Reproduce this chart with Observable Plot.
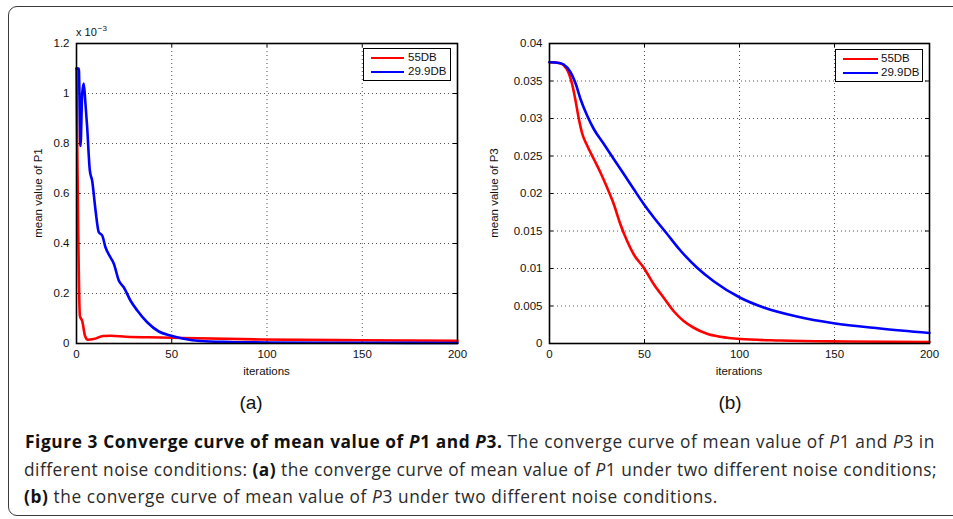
<!DOCTYPE html>
<html>
<head>
<meta charset="utf-8">
<script src="https://cdn.jsdelivr.net/npm/d3@7"></script>
<script src="https://cdn.jsdelivr.net/npm/@observablehq/plot@0.6"></script>
<style>
  html, body { margin: 0; padding: 0; background: #fff; }
  #page { position: relative; width: 953px; height: 519px; overflow: hidden; background: #fff; font-family: "Liberation Sans", Arial, sans-serif; }
  #frame { position: absolute; left: 8px; top: 6px; width: 980px; height: 510px; border: 1.3px solid #3a3a3a; border-radius: 9px; box-sizing: border-box; }
  .plotbox { position: absolute; top: 0; }
  .lbl { position: absolute; font-family: "Liberation Sans", Arial, sans-serif; font-size: 11.5px; color: #111; white-space: nowrap; }
  .ylbl { transform: translate(-50%, -50%) rotate(-90deg); }
  .xlbl { transform: translate(-50%, -50%); }
  .sub { position: absolute; font-family: "Liberation Sans", Arial, sans-serif; font-size: 19px; color: #111; transform: translate(-50%, -50%); }
  .legend { position: absolute; border: 1px solid #000; background: #fff; box-sizing: border-box; }
  .legend .row { position: absolute; left: 0; height: 14px; width: 100%; }
  .legend .sw { position: absolute; height: 2.4px; top: 6px; }
  .legend .tx { position: absolute; top: -1px; font-family: "Liberation Sans", Arial, sans-serif; font-size: 11.5px; color: #111; line-height: 14px; }
  #caption { position: absolute; left: 0; top: 0; }
</style>
</head>
<body>
<div id="page">
  <div id="frame"></div>
</div>
<script>
// ---------- data ----------
const seriesNames = ["55DB", "29.9DB"];
const seriesColors = ["#ff0000", "#0000ff"];

const xTicks = [0, 50, 100, 150, 200];
const p1Ticks = [0, 0.2, 0.4, 0.6, 0.8, 1, 1.2];               // units of 1e-3
const p3Ticks = [0, 0.005, 0.01, 0.015, 0.02, 0.025, 0.03, 0.035, 0.04];

// (a) mean value of P1 (x 10^-3)
const p1Iter55 = [0, 1.8, 3, 4.5, 6, 9, 14, 18, 26, 44, 97, 150, 200];
const p1Val55  = [1.1, 0.11, 0.09, 0.03, 0.015, 0.018, 0.03, 0.031, 0.027, 0.024, 0.016, 0.013, 0.011];
const p1Iter299 = [0, 1.2, 2.1, 3, 3.8, 4.6, 5.6, 7, 8.2, 10, 11.7, 13.5, 15.2, 17.8, 19.6, 22.2, 24.8, 28.3, 31.9, 37.1, 43.2, 49.3, 56.3, 65, 80, 100, 150, 200];
const p1Val299  = [1.1, 1.1, 0.79, 1.0, 1.04, 0.97, 0.865, 0.692, 0.652, 0.532, 0.445, 0.432, 0.385, 0.345, 0.319, 0.252, 0.225, 0.172, 0.132, 0.085, 0.048, 0.032, 0.019, 0.01, 0.006, 0.004, 0.003, 0.002];

// (b) mean value of P3
const p3Iter55 = [0, 5, 7.5, 10.2, 11.9, 13.7, 15.4, 17.2, 19.8, 23.3, 26.8, 30.3, 33.8, 37.3, 40.8, 44.3, 49.6, 54.9, 60.1, 65.4, 70.6, 75.9, 82.9, 89.9, 100.4, 121.5, 156.5, 200];
const p3Val55  = [0.0375, 0.0374, 0.0371, 0.036, 0.0346, 0.0324, 0.030, 0.028, 0.0264, 0.0246, 0.0228, 0.0208, 0.0186, 0.0159, 0.0137, 0.0119, 0.0101, 0.0079, 0.0061, 0.0043, 0.003, 0.0021, 0.0013, 0.0009, 0.0006, 0.0004, 0.00027, 0.0002];
const p3Iter299 = [0, 5, 7.5, 11, 13.7, 16.3, 19.8, 23.3, 28.6, 33.8, 39.1, 44.3, 49.6, 54.9, 61.9, 68.9, 77.7, 86.4, 100.4, 112.7, 130.2, 149.5, 174, 200];
const p3Val299  = [0.0375, 0.0374, 0.0372, 0.0362, 0.0347, 0.0326, 0.0304, 0.0286, 0.0266, 0.0246, 0.0226, 0.0206, 0.0186, 0.0168, 0.0146, 0.0124, 0.0101, 0.0083, 0.0061, 0.0048, 0.0036, 0.0027, 0.002, 0.0014];

const panelA = { yLabel: "mean value of P1", sub: "(a)" };
const panelB = { yLabel: "mean value of P3", sub: "(b)" };

// ---------- helpers ----------
function toRows(iters, vals, series) {
  return iters.map((x, i) => ({ x, y: vals[i], series }));
}
const fmt = d => String(+d.toFixed(4));

function makePanel(cfg) {
  const { width, height, mL, mR, mT, mB, yDomain, yTicks, rows } = cfg;
  const iw = width - mL - mR, ih = height - mT - mB;
  return Plot.plot({
    width, height,
    marginLeft: mL, marginRight: mR, marginTop: mT, marginBottom: mB,
    style: { fontFamily: "'Liberation Sans', Arial, sans-serif", fontSize: "11.5px", color: "#111", background: "transparent", overflow: "visible" },
    x: { domain: [0, 200], ticks: xTicks, tickSize: 0, tickPadding: 6, label: null },
    y: { domain: yDomain, ticks: yTicks, tickSize: 0, tickPadding: 7, label: null, tickFormat: fmt },
    color: { domain: seriesNames, range: seriesColors },
    marks: [
      Plot.ruleX(xTicks, { stroke: "#555", strokeWidth: 1, strokeDasharray: "1,3" }),
      Plot.ruleY(yTicks, { stroke: "#555", strokeWidth: 1, strokeDasharray: "1,3" }),
      // inward MATLAB-style tick marks
      Plot.ruleX(xTicks, { stroke: "#000", insetTop: ih - 4 }),
      Plot.ruleX(xTicks, { stroke: "#000", insetBottom: ih - 4 }),
      Plot.ruleY(yTicks, { stroke: "#000", insetRight: iw - 4 }),
      Plot.ruleY(yTicks, { stroke: "#000", insetLeft: iw - 4 }),
      Plot.line(rows, { x: "x", y: "y", z: "series", stroke: "series", strokeWidth: 2.6, curve: "monotone-x" }),
      Plot.frame({ stroke: "#000", strokeWidth: 1.6 })
    ]
  });
}

const page = document.getElementById("page");

function addLegend(left, top, w, h, swL, swW, txL) {
  const lg = document.createElement("div");
  lg.className = "legend";
  Object.assign(lg.style, { left: left + "px", top: top + "px", width: w + "px", height: h + "px" });
  seriesNames.forEach((name, i) => {
    const row = document.createElement("div");
    row.className = "row";
    row.style.top = (2 + i * 14) + "px";
    const sw = document.createElement("div");
    sw.className = "sw";
    Object.assign(sw.style, { left: swL + "px", width: swW + "px", background: seriesColors[i] });
    const tx = document.createElement("div");
    tx.className = "tx";
    tx.style.left = txL + "px";
    tx.textContent = name;
    row.appendChild(sw); row.appendChild(tx);
    lg.appendChild(row);
  });
  page.appendChild(lg);
}

function addLabel(cls, text, x, y) {
  const el = document.createElement("div");
  el.className = cls;
  el.textContent = text;
  Object.assign(el.style, { left: x + "px", top: y + "px" });
  page.appendChild(el);
  return el;
}

// ---------- panel (a) ----------
const rowsA = [...toRows(p1Iter55, p1Val55, seriesNames[0]), ...toRows(p1Iter299, p1Val299, seriesNames[1])];
const plotA = makePanel({ width: 476, height: 380, mL: 76, mR: 19, mT: 43, mB: 37, yDomain: [0, 1.2], yTicks: p1Ticks, rows: rowsA });
const boxA = document.createElement("div"); boxA.className = "plotbox"; boxA.style.left = "0px";
boxA.appendChild(plotA); page.appendChild(boxA);

// ---------- panel (b) ----------
const rowsB = [...toRows(p3Iter55, p3Val55, seriesNames[0]), ...toRows(p3Iter299, p3Val299, seriesNames[1])];
const plotB = makePanel({ width: 483, height: 380, mL: 79, mR: 24, mT: 43, mB: 37, yDomain: [0, 0.04], yTicks: p3Ticks, rows: rowsB });
const boxB = document.createElement("div"); boxB.className = "plotbox"; boxB.style.left = "470px";
boxB.appendChild(plotB); page.appendChild(boxB);

// exponent label
const ex = document.createElement("div");
ex.className = "lbl";
ex.style.left = "76px"; ex.style.top = "26px"; ex.style.fontSize = "11px";
ex.innerHTML = 'x 10<span style="position:relative;top:-5px;font-size:8px;margin-left:1px">\u22123</span>';
page.appendChild(ex);

// axis labels and sub labels
addLabel("lbl xlbl", "iterations", 266.5, 371);
addLabel("lbl xlbl", "iterations", 739, 371);
addLabel("lbl ylbl", panelA.yLabel, 38, 193);
addLabel("lbl ylbl", panelB.yLabel, 494, 193);
addLabel("sub", panelA.sub, 251, 403);
addLabel("sub", panelB.sub, 730, 403);

// legends
addLegend(363, 48, 88, 33, 7, 33, 44);
addLegend(835, 49, 88, 33, 7, 35, 45);

// ---------- caption ----------
const NS = "http://www.w3.org/2000/svg";
const cap = document.createElementNS(NS, "svg");
cap.setAttribute("id", "caption");
cap.setAttribute("width", 953); cap.setAttribute("height", 519);
cap.style.position = "absolute"; cap.style.left = "0"; cap.style.top = "0"; cap.style.pointerEvents = "none";
page.appendChild(cap);

const captionLines = [
  [["b", "Figure 3 Converge curve of mean value of "], ["bi", "P"], ["b", "1 and "], ["bi", "P"], ["b", "3."], ["r", " The converge curve of mean value of "], ["i", "P"], ["r", "1 and "], ["i", "P"], ["r", "3 in"]],
  [["r", "different noise conditions: "], ["b", "(a)"], ["r", " the converge curve of mean value of "], ["i", "P"], ["r", "1 under two different noise conditions;"]],
  [["b", "(b)"], ["r", " the converge curve of mean value of "], ["i", "P"], ["r", "3 under two different noise conditions."]]
];
const capBaselines = [448, 475.5, 503];
const capTargets = [910, 913, null];
const texts = captionLines.map((parts, li) => {
  const t = document.createElementNS(NS, "text");
  t.setAttribute("x", li === 0 ? 25 : 24);
  t.setAttribute("y", capBaselines[li]);
  t.setAttribute("font-family", "'Open Sans', 'Noto Sans', sans-serif");
  t.setAttribute("font-size", "17.3");
  t.setAttribute("fill", "#2a2a2a");
  t.style.whiteSpace = "pre";
  parts.forEach(([k, s]) => {
    const ts = document.createElementNS(NS, "tspan");
    ts.textContent = s;
    if (k.includes("b")) { ts.setAttribute("font-weight", "bold"); ts.setAttribute("fill", "#111"); }
    if (k.includes("i")) ts.setAttribute("font-style", "italic");
    t.appendChild(ts);
  });
  cap.appendChild(t);
  return t;
});
// fit letter spacing so the lines span the same width as in the figure
let spacing = 0;
texts.forEach((t, i) => {
  if (capTargets[i] == null) return;
  const n = t.textContent.length;
  const w = t.getComputedTextLength();
  const s = (capTargets[i] - w) / n;
  t.setAttribute("letter-spacing", s.toFixed(3));
  if (i === 0) spacing = s;
});
texts[2].setAttribute("letter-spacing", spacing.toFixed(3));
</script>
</body>
</html>
